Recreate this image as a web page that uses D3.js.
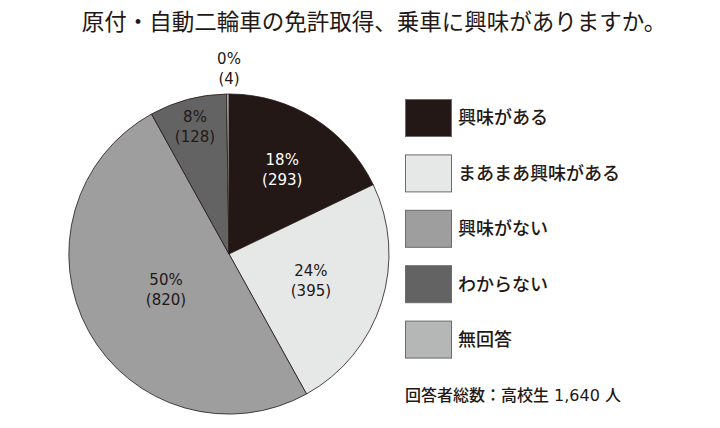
<!DOCTYPE html>
<html><head><meta charset="utf-8">
<script src="https://cdn.jsdelivr.net/npm/d3@7"></script>
<style>
html,body{margin:0;padding:0;background:#fff;}
svg{display:block;}
</style>
</head><body>
<svg id="chart" width="720" height="428"></svg>
<script>
const title = "原付・自動二輪車の免許取得、乗車に興味がありますか。";
const categories = ["興味がある", "まあまあ興味がある", "興味がない", "わからない", "無回答"];
const counts = [293, 395, 820, 128, 4];
const percents = ["18%", "24%", "50%", "8%", "0%"];
const colors = ["#231815", "#e6e7e7", "#9e9e9f", "#636364", "#b5b6b6"];
const note = "回答者総数：高校生 1,640 人";

const svg = d3.select("#chart");
const ink = "#231815";
const jp = "'Noto Sans CJK JP', 'Noto Sans', sans-serif";
const num = "'DejaVu Sans', 'Noto Sans', sans-serif";

svg.append("text").attr("x", 374).attr("y", 30).attr("text-anchor", "middle")
  .attr("font-family", jp).attr("font-size", 22.5).attr("fill", ink).text(title);

const cx = 229, cy = 254, r = 160;
const g = svg.append("g").attr("transform", `translate(${cx},${cy})`);
const pie = d3.pie().sort(null).value(d => d)(counts);
const arc = d3.arc().innerRadius(0).outerRadius(r);

g.selectAll("path").data(pie).join("path")
  .attr("d", arc).attr("fill", (d, i) => colors[i])
  .attr("stroke", ink).attr("stroke-width", 0.8).attr("stroke-linejoin", "round");

// label radii (layout only)
const labelR = [100, 86, 72, 132, 186];
pie.forEach((d, i) => {
  const a = (d.startAngle + d.endAngle) / 2;
  const lr = labelR[i];
  let x = Math.sin(a) * lr, y = -Math.cos(a) * lr;
  if (i === 4) { x = 0; }
  const fill = i === 0 ? "#ffffff" : ink;
  g.append("text").attr("text-anchor", "middle").attr("x", x).attr("y", y - 4)
    .attr("font-family", num).attr("font-size", 15).attr("fill", fill).text(percents[i]);
  g.append("text").attr("text-anchor", "middle").attr("x", x).attr("y", y + 16)
    .attr("font-family", num).attr("font-size", 15).attr("fill", fill).text(`(${counts[i]})`);
});

// legend
const ly = d3.scaleBand().domain(categories).range([99, 376]).paddingInner(0);
const leg = svg.append("g");
categories.forEach((c, i) => {
  const y0 = ly(c);
  leg.append("rect").attr("x", 405.5).attr("y", y0 + 0.5).attr("width", 46).attr("height", 37)
    .attr("fill", colors[i]).attr("stroke", "#6b6b6b").attr("stroke-width", 1);
  leg.append("text").attr("x", 458).attr("y", y0 + 19).attr("dy", "0.35em")
    .attr("font-family", jp).attr("font-size", 18).attr("font-weight", 500)
    .attr("fill", ink).text(c);
});

svg.append("text").attr("x", 405).attr("y", 401)
  .attr("font-family", "'DejaVu Sans', 'Noto Sans CJK JP', sans-serif").attr("font-size", 16)
  .attr("font-weight", 500).attr("fill", ink).text(note);
</script>
</body></html>
